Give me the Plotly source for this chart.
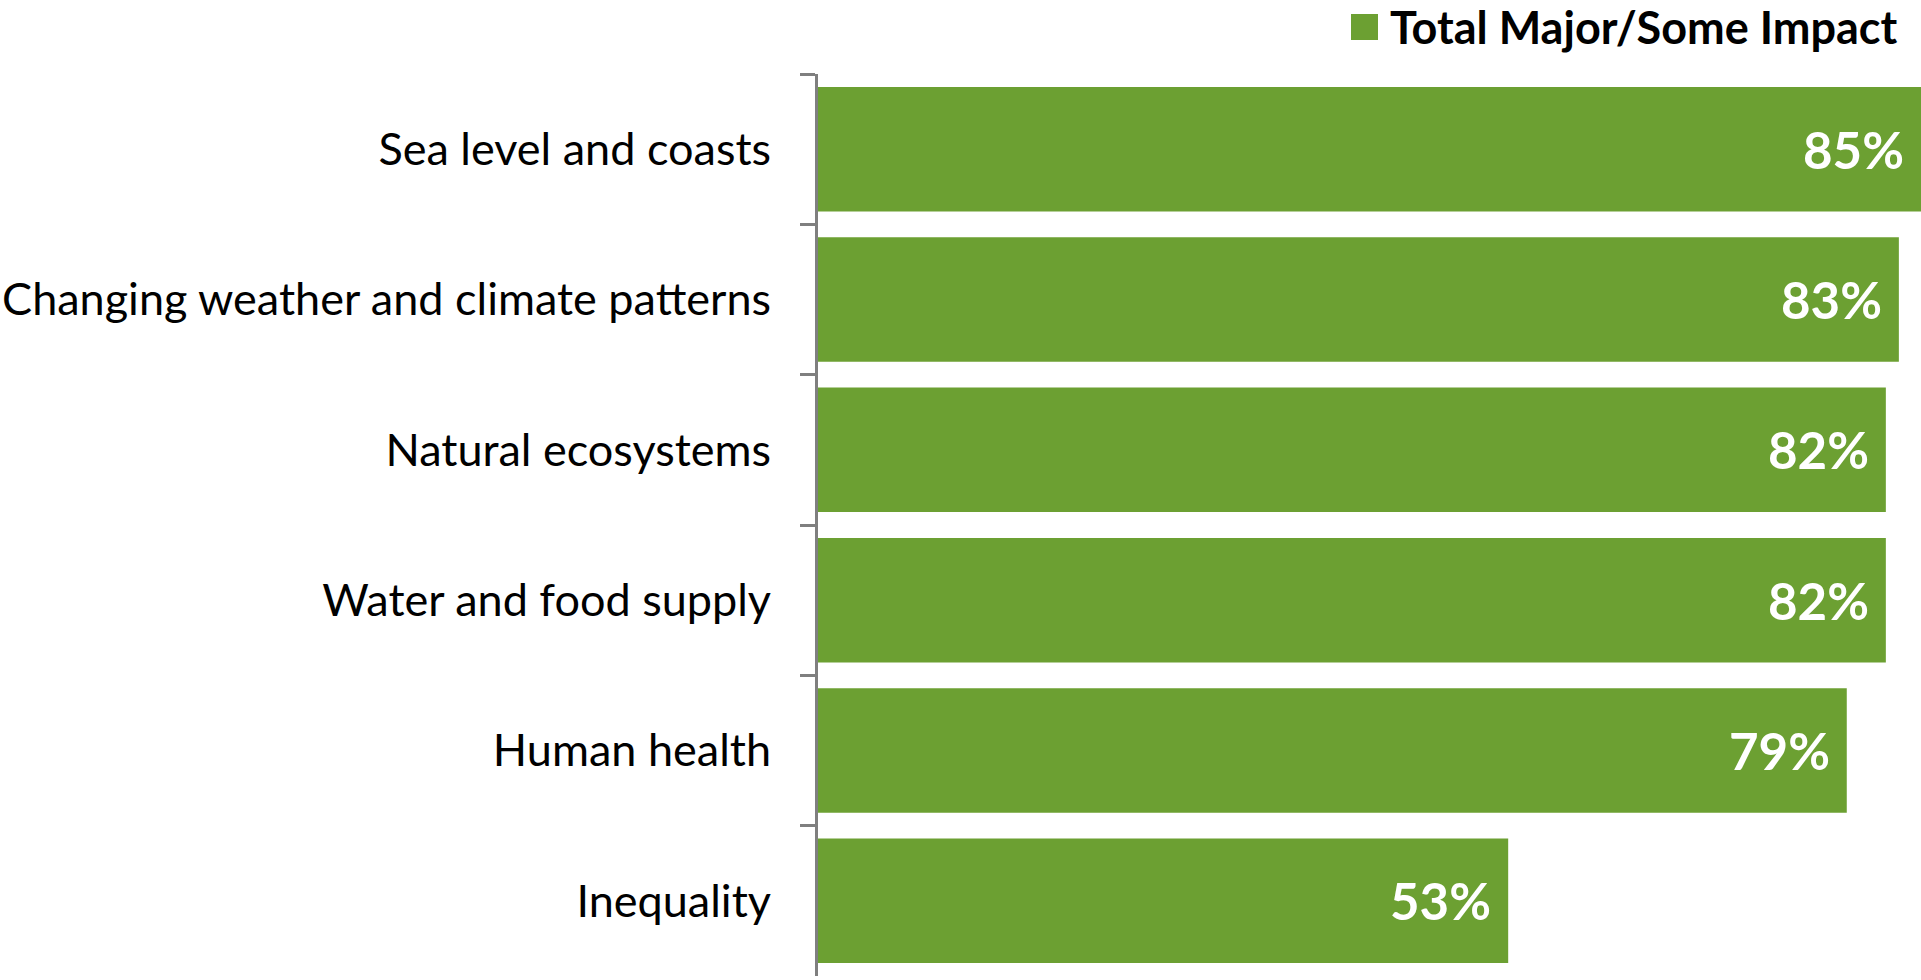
import plotly.graph_objects as go

# Share of respondents expecting a major or some impact, by area
categories = [
    "Sea level and coasts",
    "Changing weather and climate patterns",
    "Natural ecosystems",
    "Water and food supply",
    "Human health",
    "Inequality",
]
values = [85, 83, 82, 82, 79, 53]
series_name = "Total Major/Some Impact"

GREEN = "#6ca032"
AXIS_GRAY = "#7f7f7f"
X_MAX = 84.7

fig = go.Figure()
fig.add_trace(go.Bar(
    x=values,
    y=categories,
    orientation="h",
    marker=dict(color=GREEN, line=dict(width=0)),
    name=series_name,
    showlegend=False,
    hoverinfo="skip",
))

# Value labels placed just inside the right end of each (visible) bar
for cat, v in zip(categories, values):
    fig.add_annotation(
        x=min(v, X_MAX), y=cat, xref="x", yref="y",
        text=f"{v}%", showarrow=False,
        xanchor="right", yanchor="middle", xshift=-15,
        font=dict(family="Lato", size=51, color="white", weight="bold"),
    )

# Legend drawn as a swatch plus label at the top right
fig.add_shape(
    type="rect", xref="paper", yref="paper",
    x0=(1351 - 818) / 1103, x1=(1378 - 818) / 1103,
    y0=(976 - 40) / 902, y1=(976 - 14) / 902,
    fillcolor=GREEN, line=dict(width=0), layer="above",
)
fig.add_annotation(
    x=(1388 - 818) / 1103, y=(976 - 27) / 902, xref="paper", yref="paper",
    text=series_name, showarrow=False, xanchor="left", yanchor="middle",
    font=dict(family="Lato", size=45, color="black", weight="bold"),
)

fig.update_layout(
    width=1921, height=980,
    margin=dict(l=818, r=0, t=74, b=4, pad=0),
    paper_bgcolor="white", plot_bgcolor="white",
    bargap=0.172,
    showlegend=False,
    font=dict(family="Lato", color="black"),
)
fig.update_xaxes(
    range=[0, X_MAX], visible=False, showgrid=False, zeroline=False,
)
fig.update_yaxes(
    autorange="reversed",
    showline=True, linecolor=AXIS_GRAY, linewidth=3,
    ticks="outside", tickson="boundaries", ticklen=15, tickwidth=3,
    tickcolor=AXIS_GRAY,
    tickfont=dict(family="Lato", size=45, color="black"),
    ticklabelstandoff=35,
    showgrid=False, zeroline=False,
)

fig.write_html("out.html")
